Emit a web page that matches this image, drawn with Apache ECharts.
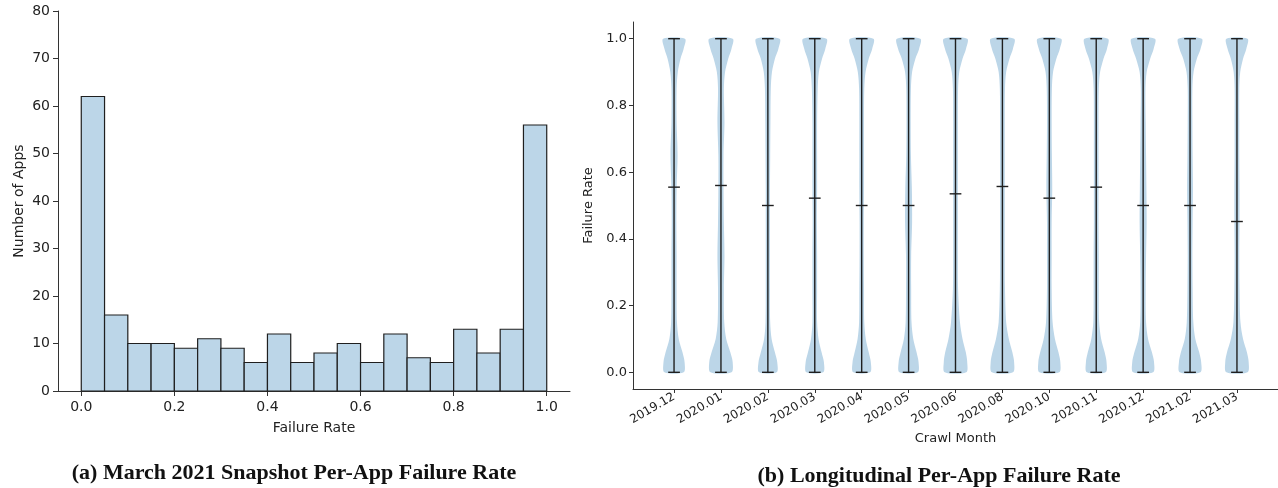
<!DOCTYPE html>
<html>
<head>
<meta charset="utf-8">
<script src="https://cdn.jsdelivr.net/npm/echarts@6/dist/echarts.min.js"></script>
<style>
html, body { margin: 0; padding: 0; background: #fff; }
#chart { width: 1278px; height: 488px; }
</style>
</head>
<body>
<div id="chart"></div>
<script>
// (a) histogram: bin edges and counts
var binStarts = [0.00, 0.05, 0.10, 0.15, 0.20, 0.25, 0.30, 0.35, 0.40, 0.45, 0.50, 0.55, 0.60, 0.65, 0.70, 0.75, 0.80, 0.85, 0.90, 0.95]
var binEnds = [0.05, 0.10, 0.15, 0.20, 0.25, 0.30, 0.35, 0.40, 0.45, 0.50, 0.55, 0.60, 0.65, 0.70, 0.75, 0.80, 0.85, 0.90, 0.95, 1.00]
var appCounts = [62, 16, 10, 10, 9, 11, 9, 6, 12, 6, 8, 10, 6, 12, 7, 6, 13, 8, 13, 56]
var rateTicks = [0, 0.2, 0.4, 0.6, 0.8, 1.0]

// (b) violins per crawl month
var months = ['2019.12', '2020.01', '2020.02', '2020.03', '2020.04', '2020.05', '2020.06', '2020.08', '2020.10', '2020.11', '2020.12', '2021.02', '2021.03']
var monthPos = [1, 2, 3, 4, 5, 6, 7, 8, 9, 10, 11, 12, 13]
var medians = [0.555, 0.56, 0.5, 0.522, 0.5, 0.5, 0.535, 0.557, 0.522, 0.555, 0.5, 0.5, 0.452]
var minRates = [0, 0, 0, 0, 0, 0, 0, 0, 0, 0, 0, 0, 0]
var maxRates = [1, 1, 1, 1, 1, 1, 1, 1, 1, 1, 1, 1, 1]
// failure rate levels where the violin width was read
var densityLevels = [0, 0.03, 0.06, 0.1, 0.15, 0.25, 0.35, 0.45, 0.55, 0.65, 0.75, 0.85, 0.9, 0.94, 0.97, 1.0]
// relative widths (1 = widest violin)
var densityWidths = [
  [0.82, 0.90, 0.72, 0.40, 0.25, 0.22, 0.22, 0.20, 0.22, 0.30, 0.22, 0.22, 0.32, 0.55, 0.82, 0.93],
  [0.90, 1.00, 0.80, 0.45, 0.28, 0.25, 0.30, 0.25, 0.22, 0.22, 0.30, 0.25, 0.35, 0.62, 0.90, 1.00],
  [0.75, 0.80, 0.60, 0.32, 0.20, 0.18, 0.18, 0.18, 0.18, 0.20, 0.22, 0.25, 0.35, 0.60, 0.90, 1.00],
  [0.72, 0.78, 0.58, 0.32, 0.20, 0.20, 0.20, 0.18, 0.20, 0.20, 0.20, 0.25, 0.35, 0.62, 0.90, 1.00],
  [0.72, 0.78, 0.60, 0.35, 0.22, 0.20, 0.18, 0.18, 0.20, 0.20, 0.20, 0.22, 0.33, 0.60, 0.90, 1.00],
  [0.78, 0.85, 0.68, 0.40, 0.25, 0.22, 0.22, 0.30, 0.28, 0.20, 0.18, 0.20, 0.30, 0.58, 0.90, 1.00],
  [0.92, 1.00, 0.88, 0.60, 0.38, 0.22, 0.20, 0.20, 0.20, 0.20, 0.20, 0.22, 0.32, 0.60, 0.90, 1.00],
  [0.90, 1.00, 0.85, 0.55, 0.32, 0.22, 0.20, 0.20, 0.20, 0.20, 0.20, 0.22, 0.32, 0.60, 0.90, 1.00],
  [0.85, 0.94, 0.78, 0.48, 0.28, 0.20, 0.20, 0.20, 0.25, 0.22, 0.20, 0.22, 0.32, 0.60, 0.90, 1.00],
  [0.80, 0.88, 0.72, 0.42, 0.25, 0.22, 0.22, 0.20, 0.20, 0.20, 0.20, 0.22, 0.33, 0.62, 0.92, 1.00],
  [0.85, 0.93, 0.75, 0.42, 0.25, 0.22, 0.25, 0.30, 0.28, 0.25, 0.22, 0.20, 0.30, 0.60, 0.90, 1.00],
  [0.88, 0.95, 0.78, 0.45, 0.28, 0.22, 0.20, 0.22, 0.25, 0.22, 0.20, 0.20, 0.30, 0.58, 0.90, 1.00],
  [0.90, 1.00, 0.85, 0.52, 0.30, 0.22, 0.20, 0.22, 0.22, 0.20, 0.20, 0.20, 0.28, 0.52, 0.80, 0.90]
]

var fillBlue = '#bcd6e8'
var inkColor = '#1f1f1f'
var axisColor = '#333'
var tickFont = 'DejaVu Sans'

var chart = echarts.init(document.getElementById('chart'))

// 直方图的柱子
function renderBin (params, api) {
  var p0 = api.coord([api.value(0), api.value(2)])
  var p1 = api.coord([api.value(1), 0])
  return {
    type: 'rect',
    shape: { x: p0[0], y: p0[1], width: p1[0] - p0[0], height: p1[1] - p0[1] },
    style: { fill: fillBlue, stroke: inkColor, lineWidth: 1.2 }
  }
}

// 小提琴图
function renderViolin (params, api) {
  var i = params.dataIndex
  var pos = api.value(0)
  var half = 0.25
  var cap = 0.125
  var widths = densityWidths[i]
  var pts = []
  for (var k = 0; k < densityLevels.length; k++) {
    pts.push(api.coord([pos + half * widths[k], densityLevels[k]]))
  }
  for (var j = densityLevels.length - 1; j >= 0; j--) {
    pts.push(api.coord([pos - half * widths[j], densityLevels[j]]))
  }
  var lo = api.coord([pos, minRates[i]])
  var hi = api.coord([pos, maxRates[i]])
  var capL = api.coord([pos - cap, 0])[0]
  var capR = api.coord([pos + cap, 0])[0]
  var med = api.coord([pos, medians[i]])[1]
  var line = function (x1, y1, x2, y2) {
    return { type: 'line', shape: { x1: x1, y1: y1, x2: x2, y2: y2 }, style: { stroke: inkColor, lineWidth: 1.4 } }
  }
  return {
    type: 'group',
    children: [
      { type: 'polygon', shape: { points: pts, smooth: 0.3 }, style: { fill: fillBlue } },
      line(lo[0], lo[1], hi[0], hi[1]),
      line(capL, lo[1], capR, lo[1]),
      line(capL, hi[1], capR, hi[1]),
      line(capL, med, capR, med)
    ]
  }
}

var binData = binStarts.map(function (s, i) { return [s, binEnds[i], appCounts[i]] })
var violinData = monthPos.map(function (p, i) { return [p, medians[i]] })

chart.setOption({
  animation: false,
  backgroundColor: '#fff',
  title: [
    {
      text: '(a) March 2021 Snapshot Per-App Failure Rate',
      left: 289, top: 457, textAlign: 'center',
      textStyle: { fontFamily: 'Liberation Serif', fontWeight: 'bold', fontSize: 22, color: '#111' }
    },
    {
      text: '(b) Longitudinal Per-App Failure Rate',
      left: 934, top: 460, textAlign: 'center',
      textStyle: { fontFamily: 'Liberation Serif', fontWeight: 'bold', fontSize: 22, color: '#111' }
    }
  ],
  grid: [
    { left: 58, top: 11, width: 512, height: 380 },
    { left: 633, top: 22, width: 645, height: 367 }
  ],
  xAxis: [
    {
      gridIndex: 0, type: 'value', min: -0.05, max: 1.05,
      name: 'Failure Rate', nameLocation: 'middle', nameGap: 30,
      nameTextStyle: { fontFamily: tickFont, fontSize: 14, color: '#222' },
      axisLine: { onZero: false, lineStyle: { color: axisColor, width: 1 } },
      axisTick: { length: 5, lineStyle: { color: axisColor }, customValues: rateTicks },
      axisLabel: { customValues: rateTicks, margin: 9, fontFamily: tickFont, fontSize: 14, color: '#222',
        formatter: function (v) { return v.toFixed(1) } },
      splitLine: { show: false }
    },
    {
      gridIndex: 1, type: 'value', min: 0.125, max: 13.875,
      name: 'Crawl Month', nameLocation: 'middle', nameGap: 37,
      nameTextStyle: { fontFamily: tickFont, fontSize: 13, color: '#222' },
      axisLine: { onZero: false, lineStyle: { color: axisColor, width: 1 } },
      axisTick: { length: 4, lineStyle: { color: axisColor }, customValues: monthPos },
      axisLabel: { customValues: monthPos, rotate: 30, margin: 7, fontFamily: tickFont, fontSize: 12, color: '#222',
        formatter: function (v) { return months[Math.round(v) - 1] } },
      splitLine: { show: false }
    }
  ],
  yAxis: [
    {
      gridIndex: 0, type: 'value', min: 0, max: 80, interval: 10,
      name: 'Number of Apps', nameLocation: 'middle', nameGap: 32,
      nameTextStyle: { fontFamily: tickFont, fontSize: 14, color: '#222' },
      axisLine: { show: true, onZero: false, lineStyle: { color: axisColor, width: 1 } },
      axisTick: { show: true, length: 5, lineStyle: { color: axisColor } },
      axisLabel: { margin: 8, fontFamily: tickFont, fontSize: 14, color: '#222' },
      splitLine: { show: false }
    },
    {
      gridIndex: 1, type: 'value', min: -0.05, max: 1.05,
      name: 'Failure Rate', nameLocation: 'middle', nameGap: 24,
      nameTextStyle: { fontFamily: tickFont, fontSize: 13, color: '#222' },
      axisLine: { show: true, onZero: false, lineStyle: { color: axisColor, width: 1 } },
      axisTick: { show: true, length: 4, lineStyle: { color: axisColor }, customValues: rateTicks },
      axisLabel: { customValues: rateTicks, margin: 6, fontFamily: tickFont, fontSize: 13, color: '#222',
        formatter: function (v) { return v.toFixed(1) } },
      splitLine: { show: false }
    }
  ],
  series: [
    {
      type: 'custom', xAxisIndex: 0, yAxisIndex: 0,
      renderItem: renderBin, encode: { x: [0, 1], y: 2 },
      data: binData
    },
    {
      type: 'custom', xAxisIndex: 1, yAxisIndex: 1,
      renderItem: renderViolin, encode: { x: 0, y: 1 },
      data: violinData
    }
  ]
})
</script>
</body>
</html>
